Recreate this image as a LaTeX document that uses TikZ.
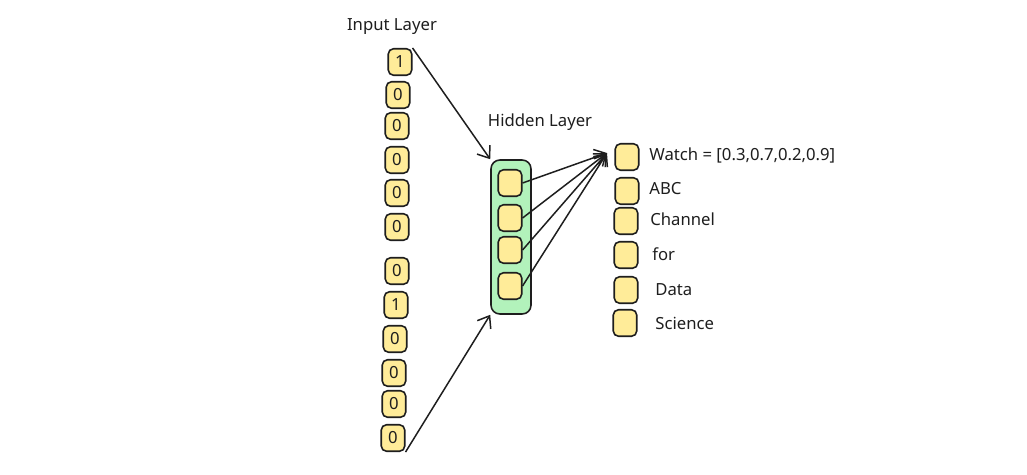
\documentclass[tikz,border=0pt]{standalone}
\usepackage{fontspec}
\setmainfont{Noto Sans}
\usetikzlibrary{arrows.meta}
\definecolor{boxyellow}{HTML}{FFEC99}
\definecolor{layergreen}{HTML}{B2F2BB}
\definecolor{ink}{HTML}{1E1E1E}

\begin{document}
\begin{tikzpicture}[x=0.02cm,y=-0.02cm]
\tikzstyle{every node}=[font=\fontsize{9.5}{11}\selectfont, text=ink]
\tikzstyle{cell}=[draw=ink, fill=boxyellow, line width=0.9pt, rounded corners=3pt, minimum width=0.47cm, minimum height=0.53cm, inner sep=0pt]
\tikzstyle{layer}=[draw=ink, fill=layergreen, line width=0.9pt, rounded corners=5pt, minimum width=0.8cm, minimum height=3.08cm, inner sep=0pt]
\tikzstyle{link}=[-{Straight Barb[length=6pt,width=9pt]}, draw=ink, line width=0.85pt]

% white background fixes the frame
\useasboundingbox [fill=white] (0,0) rectangle (1027,474);

% titles
\node (inputtitle) at (392,27) {Input Layer};
\node (hiddentitle) at (540,122) {Hidden Layer};

% input layer, one-hot column
\foreach \v/\x/\y [count=\i] in {1/400/62, 0/398/95, 0/397/126, 0/397/160, 0/397/193, 0/397/227,
	0/397/271, 1/396/305, 0/395/339, 0/394/373, 0/394/404, 0/393/438}
	\node [cell] (in\i) at (\x,\y) {\v};

% hidden layer
\node [layer] (hid) at (511,237) {};
\foreach \y [count=\i] in {183,218,250,286}
	\node [cell] (h\i) at (510,\y) {};

% output words
\coordinate (tip) at (607,153);
\foreach \x/\y [count=\i] in {627/157, 627/191, 626/221, 626/255, 626/290, 625/323}
	\node [cell] (out\i) at (\x,\y) {};
\node [anchor=west, inner xsep=0pt] (w1) at (649,155) {Watch = [0.3,0.7,0.2,0.9]};
\node [anchor=west, inner xsep=0pt] (w2) at (649,189) {ABC};
\node [anchor=west, inner xsep=0pt] (w3) at (650,219) {Channel};
\node [anchor=west, inner xsep=0pt] (w4) at (652,254) {for};
\node [anchor=west, inner xsep=0pt] (w5) at (655,290) {Data};
\node [anchor=west, inner xsep=0pt] (w6) at (655,323) {Science};

% arrows
\draw [link] (in1.north east) -- (hid.north west);
\draw [link] (in12.south east) -- (hid.south west);
\foreach \i in {1,...,4}
	\draw [link] (h\i.east) -- (tip);

\end{tikzpicture}
\end{document}
